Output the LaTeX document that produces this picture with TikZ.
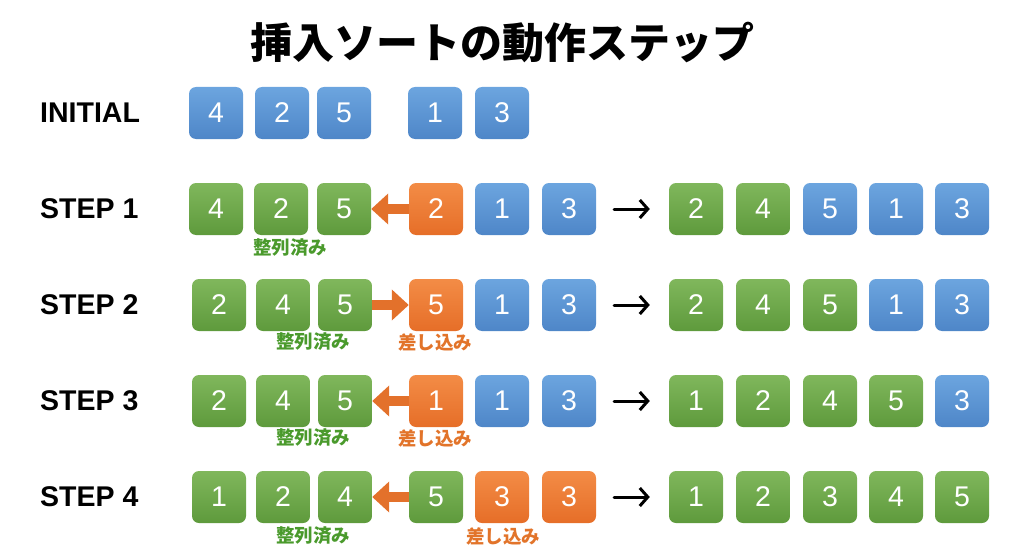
\documentclass[tikz,border=0pt]{standalone}
\usepackage{fontspec}
\setmainfont{Liberation Sans}
\newfontfamily\jpfont{Noto Sans CJK JP}
\usetikzlibrary{arrows.meta}
\definecolor{bTop}{HTML}{6CA5DF}
\definecolor{bBot}{HTML}{4E86C8}
\definecolor{gTop}{HTML}{80B75C}
\definecolor{gBot}{HTML}{5E9A3C}
\definecolor{oTop}{HTML}{F38C46}
\definecolor{oBot}{HTML}{E66E28}
\definecolor{arrO}{HTML}{E3712B}
\definecolor{txtG}{HTML}{4A9A2C}
\definecolor{txtO}{HTML}{E2742A}
\tikzset{
  cell/.style={minimum width=54pt, minimum height=52pt, rounded corners=7pt, text=white,
    font=\fontsize{28.5}{28.5}\selectfont, inner sep=0pt},
  bcell/.style={cell, top color=bTop, bottom color=bBot},
  gcell/.style={cell, top color=gTop, bottom color=gBot},
  ocell/.style={cell, top color=oTop, bottom color=oBot},
  rowlabel/.style={anchor=west, font=\bfseries\fontsize{28.5}{30}\selectfont, inner sep=0pt},
  tag/.style={font=\jpfont\bfseries\fontsize{18.5}{19}\selectfont, inner sep=0pt},
  tagG/.style={tag, text=txtG},
  tagO/.style={tag, text=txtO},
  movearrow/.style={draw=arrO, line width=10pt, -{Triangle[length=17pt,width=30pt]}},
  thenarrow/.style={draw=black, line width=3pt, -{Straight Barb[length=8pt,width=18pt]}, line cap=round},
}
\begin{document}
\begin{tikzpicture}[x=1pt,y=-1pt]
\useasboundingbox (0,0) rectangle (1024,559);
% title
\node[font=\jpfont\bfseries\fontsize{42}{42}\selectfont, inner sep=0pt] (title) at (502,42) {挿入ソートの動作ステップ};

% INITIAL
\node[rowlabel] (l0) at (40,113) {INITIAL};
\node[bcell] (a1) at (216,113) {4};
\node[bcell] (a2) at (282,113) {2};
\node[bcell] (a3) at (344,113) {5};
\node[bcell] (a4) at (435,113) {1};
\node[bcell] (a5) at (502,113) {3};

% STEP 1
\node[rowlabel] (l1) at (40,209) {STEP 1};
\node[gcell] (b1) at (216,209) {4};
\node[gcell] (b2) at (281,209) {2};
\node[gcell] (b3) at (344,209) {5};
\node[ocell] (b4) at (436,209) {2};
\node[bcell] (b5) at (502,209) {1};
\node[bcell] (b6) at (569,209) {3};
\draw[movearrow] (b4.west) -- (b3.east);
\node[tagG] (t1) at (290,248) {整列済み};
\node[gcell] (br1) at (696,209) {2};
\node[gcell] (br2) at (763,209) {4};
\node[bcell] (br3) at (830,209) {5};
\node[bcell] (br4) at (896,209) {1};
\node[bcell] (br5) at (962,209) {3};
\draw[thenarrow] ([xshift=18pt]b6.east) -- ([xshift=-19pt]br1.west);

% STEP 2
\node[rowlabel] (l2) at (40,305) {STEP 2};
\node[gcell] (c1) at (219,305) {2};
\node[gcell] (c2) at (283,305) {4};
\node[gcell] (c3) at (345,305) {5};
\node[ocell] (c4) at (436,305) {5};
\node[bcell] (c5) at (502,305) {1};
\node[bcell] (c6) at (569,305) {3};
\draw[movearrow] (c3.east) -- (c4.west);
\node[tagG] (t2) at (313,342) {整列済み};
\node[tagO] (u2) at (435,342) {差し込み};
\node[gcell] (cr1) at (696,305) {2};
\node[gcell] (cr2) at (763,305) {4};
\node[gcell] (cr3) at (830,305) {5};
\node[bcell] (cr4) at (896,305) {1};
\node[bcell] (cr5) at (962,305) {3};
\draw[thenarrow] ([xshift=18pt]c6.east) -- ([xshift=-19pt]cr1.west);

% STEP 3
\node[rowlabel] (l3) at (40,401) {STEP 3};
\node[gcell] (d1) at (219,401) {2};
\node[gcell] (d2) at (283,401) {4};
\node[gcell] (d3) at (345,401) {5};
\node[ocell] (d4) at (436,401) {1};
\node[bcell] (d5) at (502,401) {1};
\node[bcell] (d6) at (569,401) {3};
\draw[movearrow] (d4.west) -- (d3.east);
\node[tagG] (t3) at (313,438) {整列済み};
\node[tagO] (u3) at (435,438) {差し込み};
\node[gcell] (dr1) at (696,401) {1};
\node[gcell] (dr2) at (763,401) {2};
\node[gcell] (dr3) at (830,401) {4};
\node[gcell] (dr4) at (896,401) {5};
\node[bcell] (dr5) at (962,401) {3};
\draw[thenarrow] ([xshift=18pt]d6.east) -- ([xshift=-19pt]dr1.west);

% STEP 4
\node[rowlabel] (l4) at (40,497) {STEP 4};
\node[gcell] (e1) at (219,497) {1};
\node[gcell] (e2) at (283,497) {2};
\node[gcell] (e3) at (345,497) {4};
\node[gcell] (e4) at (436,497) {5};
\node[ocell] (e5) at (502,497) {3};
\node[ocell] (e6) at (569,497) {3};
\draw[movearrow] (e4.west) -- (e3.east);
\node[tagG] (t4) at (313,536) {整列済み};
\node[tagO] (u4) at (503,536) {差し込み};
\node[gcell] (er1) at (696,497) {1};
\node[gcell] (er2) at (763,497) {2};
\node[gcell] (er3) at (830,497) {3};
\node[gcell] (er4) at (896,497) {4};
\node[gcell] (er5) at (962,497) {5};
\draw[thenarrow] ([xshift=18pt]e6.east) -- ([xshift=-19pt]er1.west);
\end{tikzpicture}
\end{document}
